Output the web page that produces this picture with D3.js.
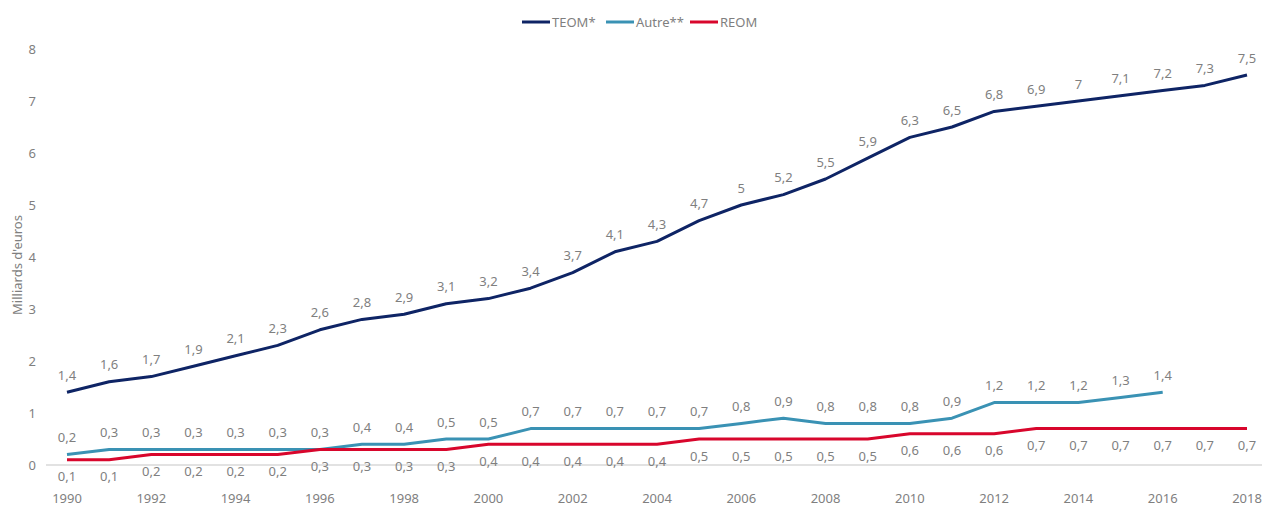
<!DOCTYPE html>
<html>
<head>
<meta charset="utf-8">
<script src="https://cdn.jsdelivr.net/npm/d3@7"></script>
<style>
	body { margin: 0; background: #fff; }
	text { font-family: "Noto Sans", sans-serif; fill: #7f7f7f; }
</style>
</head>
<body>
<div id="svg"></div>
<script>
const years = d3.range(1990, 2019);
const teom = [1.4, 1.6, 1.7, 1.9, 2.1, 2.3, 2.6, 2.8, 2.9, 3.1, 3.2, 3.4, 3.7, 4.1, 4.3,
	4.7, 5, 5.2, 5.5, 5.9, 6.3, 6.5, 6.8, 6.9, 7, 7.1, 7.2, 7.3, 7.5];
const autre = [0.2, 0.3, 0.3, 0.3, 0.3, 0.3, 0.3, 0.4, 0.4, 0.5, 0.5, 0.7, 0.7, 0.7, 0.7,
	0.7, 0.8, 0.9, 0.8, 0.8, 0.8, 0.9, 1.2, 1.2, 1.2, 1.3, 1.4];
const reom = [0.1, 0.1, 0.2, 0.2, 0.2, 0.2, 0.3, 0.3, 0.3, 0.3, 0.4, 0.4, 0.4, 0.4, 0.4,
	0.5, 0.5, 0.5, 0.5, 0.5, 0.6, 0.6, 0.6, 0.7, 0.7, 0.7, 0.7, 0.7, 0.7];
const yTicks = [0, 1, 2, 3, 4, 5, 6, 7, 8];
const xTicks = d3.range(1990, 2019, 2);

const series = [
	{name: "TEOM*", values: teom, color: "#0e2465", pos: "above"},
	{name: "Autre**", values: autre, color: "#3a92b4", pos: "above"},
	{name: "REOM", values: reom, color: "#d8062c", pos: "below"}
];

const width = 1262,
			height = 506;

const svg = d3.select("#svg")
	.append("svg")
		.attr("width", width)
		.attr("height", height);

const x = d3.scaleLinear()
		.domain([1990, 2018])
		.range([67, 1247]);

const y = d3.scaleLinear()
		.domain([0, 8])
		.range([465, 49]);

const fmt = v => String(v).replace(".", ",");

// baseline
svg.append("line")
		.attr("x1", 46)
		.attr("x2", width)
		.attr("y1", y(0))
		.attr("y2", y(0))
		.attr("stroke", "#d9d9d9")
		.attr("stroke-width", 1.5);

// y tick labels
svg.append("g")
	.selectAll("text")
	.data(yTicks)
	.enter()
	.append("text")
		.attr("x", 36)
		.attr("y", d => y(d))
		.attr("dy", "0.35em")
		.attr("text-anchor", "end")
		.style("font-size", "13px")
		.text(d => d);

// x tick labels
svg.append("g")
	.selectAll("text")
	.data(xTicks)
	.enter()
	.append("text")
		.attr("x", d => x(d))
		.attr("y", 498)
		.attr("dy", "0.35em")
		.attr("text-anchor", "middle")
		.style("font-size", "13px")
		.text(d => d);

// axis title
svg.append("text")
		.attr("transform", `translate(17, ${y(4) + 8}) rotate(-90)`)
		.attr("text-anchor", "middle")
		.attr("dy", "0.35em")
		.style("font-size", "13px")
		.text("Milliards d'euros");

const line = d3.line()
		.x((d, i) => x(years[i]))
		.y(d => y(d));

series.forEach(s => {
	svg.append("path")
			.datum(s.values)
			.attr("fill", "none")
			.attr("stroke", s.color)
			.attr("stroke-width", 3)
			.attr("stroke-linejoin", "round")
			.attr("d", line);

	svg.append("g")
		.selectAll("text")
		.data(s.values)
		.enter()
		.append("text")
			.attr("x", (d, i) => x(years[i]))
			.attr("y", d => y(d) + (s.pos === "above" ? -17 : 17))
			.attr("dy", "0.35em")
			.attr("text-anchor", "middle")
			.style("font-size", "13px")
			.text(fmt);
});

// legend
const legend = svg.append("g")
		.selectAll("g")
		.data(series)
		.enter()
		.append("g")
			.attr("transform", (d, i) => `translate(${[522, 606, 690][i]}, 22)`);

legend.append("line")
		.attr("x1", 0)
		.attr("x2", 28)
		.attr("stroke", d => d.color)
		.attr("stroke-width", 3);

legend.append("text")
		.attr("x", 30)
		.attr("dy", "0.35em")
		.style("font-size", "13px")
		.text(d => d.name);
</script>
</body>
</html>
